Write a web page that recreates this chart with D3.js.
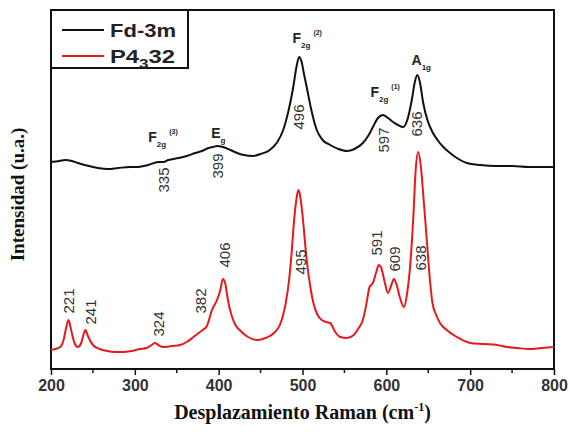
<!DOCTYPE html>
<html>
<head>
<meta charset="utf-8">
<script src="https://cdn.jsdelivr.net/npm/d3@7"></script>
<style>
  body { margin: 0; background: #fff; }
  svg text { font-family: "Liberation Sans", Arial, sans-serif; }
</style>
</head>
<body>
<div id="chart"></div>
<script>
// Raman shift (cm-1) and intensity (arbitrary units)
const fdShift = [200,210,217,225,232,245,256,268,280,294,304,316,328,334,340,352,362,372,380,388,393,398,405,414,422,430,441,450,461,470,477,483,489,493,496,499,502,505,510,517,524,533,543,553,562,572,579,584,590,596,602,608,614,620,625,628,631,634,637,640,644,649,655,661,668,676,686,696,712,730,750,770,785,800];
const fdIntensity = [207,208,209,208,206,203,201,200,201,202,202,204,207,207,209,211,213,216,218,221,222,223,222,219,216,214,213,215,219,227,239,257,282,303,312,307,294,282,261,239,229,224,220,218,220,226,234,242,251,254,251,247,244,242,249,259,272,287,294,287,266,249,237,229,222,216,210,206,204,203,203,202,202,202];

const pShift = [200,205,211,215,218,221,224,228,232,236,239,241,244,250,258,267,276,286,296,306,314,320,324,328,334,344,354,362,370,376,381,386,392,398,402,405,408,411,416,420,425,435,446,456,466,473,480,484,487,490,493,495,497,500,505,509,513,518,523,528,533,539,545,553,561,567,572,576,580,584,588,591,594,598,602,606,609,612,616,621,625,628,632,635,638,641,645,648,652,655,660,664,672,684,700,716,732,744,756,770,785,800];
const pIntensity = [19,20,22,29,41,49,39,26,22,26,35,39,33,24,20,18,17,17,18,20,21,24,26,24,22,23,24,27,32,36,39,43,59,69,79,90,85,69,52,44,39,32,29,31,36,44,66,89,116,149,171,179,174,154,109,84,66,54,49,47,46,37,32,31,34,41,49,64,82,86,97,104,101,87,76,84,90,85,72,62,77,99,149,199,217,204,164,132,89,66,53,46,39,32,26,25,24,22,21,20,21,22];

const xTicks = [200,300,400,500,600,700,800];

// peak labels: value, label height, small x nudge
const fdPeaks = [335,399,496,597,636];
const fdPeakY = [189,203,252,229,245];
const pPeaks = [221,241,324,382,406,495,591,609,638];
const pPeakY = [68,57,45,68,114,107,126,110,111];
const pPeakDx = [0,5,4,-3,1,2,-2,1,3];

// vibrational modes above the Fd-3m curve
const modeMain = ['F','E','F','F','A'];
const modeSub = ['2g','g','2g','2g','1g'];
const modeSup = ['(3)','','(2)','(1)',''];
const modeX = [322,397,494,587,636];
const modeY = [227,231,326,272,304];

const width = 570, height = 432;
const margin = { top: 10, right: 16, bottom: 63, left: 51 };

const svg = d3.select('#chart').append('svg')
    .attr('width', width)
    .attr('height', height);

const x = d3.scaleLinear()
    .domain([200, 800])
    .range([margin.left, width - margin.right]);

const y = d3.scaleLinear()
    .domain([0, 359])
    .range([height - margin.bottom, margin.top]);

// x axis with minor ticks
const minor = d3.range(250, 800, 100);
svg.append('g')
    .attr('transform', `translate(0,${height - margin.bottom})`)
    .selectAll('line')
    .data(minor)
    .enter().append('line')
    .attr('x1', d => x(d)).attr('x2', d => x(d))
    .attr('y1', 0).attr('y2', 4)
    .attr('stroke', '#111').attr('stroke-width', 1.5);

const xAxis = svg.append('g')
    .attr('transform', `translate(0,${height - margin.bottom})`)
    .call(d3.axisBottom(x).tickValues(xTicks).tickSize(6).tickSizeOuter(0).tickPadding(5));
xAxis.select('.domain').remove();
xAxis.selectAll('line').attr('stroke', '#111').attr('stroke-width', 1.5);
xAxis.selectAll('text')
    .style('font-family', '"Liberation Sans", Arial, sans-serif')
    .style('font-size', '16px')
    .style('font-weight', 'bold')
    .attr('fill', '#333');

// frame
svg.append('rect')
    .attr('x', margin.left)
    .attr('y', margin.top)
    .attr('width', width - margin.left - margin.right)
    .attr('height', height - margin.top - margin.bottom)
    .attr('fill', 'none')
    .attr('stroke', '#111')
    .attr('stroke-width', 2);

const line = d3.line()
    .x(d => x(d[0]))
    .y(d => y(d[1]))
    .curve(d3.curveMonotoneX);

svg.append('path')
    .datum(d3.zip(fdShift, fdIntensity))
    .attr('d', line)
    .attr('fill', 'none')
    .attr('stroke', '#111')
    .attr('stroke-width', 2);

svg.append('path')
    .datum(d3.zip(pShift, pIntensity))
    .attr('d', line)
    .attr('fill', 'none')
    .attr('stroke', '#e8191e')
    .attr('stroke-width', 2);

// rotated peak labels
function peakLabels(vals, ys, dxs) {
    svg.append('g')
        .selectAll('text')
        .data(vals)
        .enter().append('text')
        .attr('transform', (d, i) => `translate(${x(d) + (dxs ? dxs[i] : 0)},${y(ys[i])}) rotate(-90)`)
        .attr('text-anchor', 'middle')
        .attr('dy', '0.35em')
        .style('font-size', '15px')
        .attr('fill', '#333')
        .text(d => d);
}
peakLabels(fdPeaks, fdPeakY, null);
peakLabels(pPeaks, pPeakY, pPeakDx);

// mode labels
modeMain.forEach((m, i) => {
    const t = svg.append('text')
        .attr('x', x(modeX[i]) - 5)
        .attr('y', y(modeY[i]))
        .style('font-size', '14px')
        .style('font-weight', 'bold')
        .attr('fill', '#222');
    t.append('tspan').text(m);
    t.append('tspan').attr('dy', 5).style('font-size', '8px').text(modeSub[i]);
    if (modeSup[i]) {
        t.append('tspan').attr('dx', 3).attr('dy', -13).style('font-size', '7px').text(modeSup[i]);
    }
});

// legend
const lg = svg.append('g');
lg.append('rect')
    .attr('x', margin.left)
    .attr('y', margin.top)
    .attr('width', 137)
    .attr('height', 58)
    .attr('fill', '#fff')
    .attr('stroke', '#111')
    .attr('stroke-width', 2);
lg.append('line').attr('x1', 62).attr('x2', 104).attr('y1', 30).attr('y2', 30)
    .attr('stroke', '#111').attr('stroke-width', 2);
lg.append('line').attr('x1', 62).attr('x2', 104).attr('y1', 56).attr('y2', 56)
    .attr('stroke', '#e8191e').attr('stroke-width', 2);
lg.append('text').attr('x', 110).attr('y', 37)
    .attr('textLength', 66).attr('lengthAdjust', 'spacingAndGlyphs')
    .style('font-size', '18px').style('font-weight', 'bold').attr('fill', '#222')
    .text('Fd-3m');
const pl = lg.append('text').attr('x', 110).attr('y', 63)
    .attr('textLength', 65).attr('lengthAdjust', 'spacingAndGlyphs')
    .style('font-size', '18px').style('font-weight', 'bold').attr('fill', '#222');
pl.append('tspan').text('P4');
pl.append('tspan').attr('dy', 5).style('font-size', '13px').text('3');
pl.append('tspan').attr('dy', -5).text('32');

// axis titles
const xt = svg.append('text')
    .attr('x', (margin.left + width - margin.right) / 2)
    .attr('y', 419)
    .attr('text-anchor', 'middle')
    .style('font-family', '"Liberation Serif", "Times New Roman", serif')
    .style('font-size', '20px')
    .style('font-weight', 'bold')
    .attr('fill', '#111');
xt.append('tspan').text('Desplazamiento Raman (cm');
xt.append('tspan').attr('dy', -8).style('font-size', '12px').text('-1');
xt.append('tspan').attr('dy', 8).text(')');

svg.append('text')
    .attr('transform', `translate(24,${(margin.top + height - margin.bottom) / 2 + 5}) rotate(-90)`)
    .attr('text-anchor', 'middle')
    .style('font-family', '"Liberation Serif", "Times New Roman", serif')
    .style('font-size', '19px')
    .style('font-weight', 'bold')
    .attr('fill', '#111')
    .text('Intensidad (u.a.)');
</script>
</body>
</html>
